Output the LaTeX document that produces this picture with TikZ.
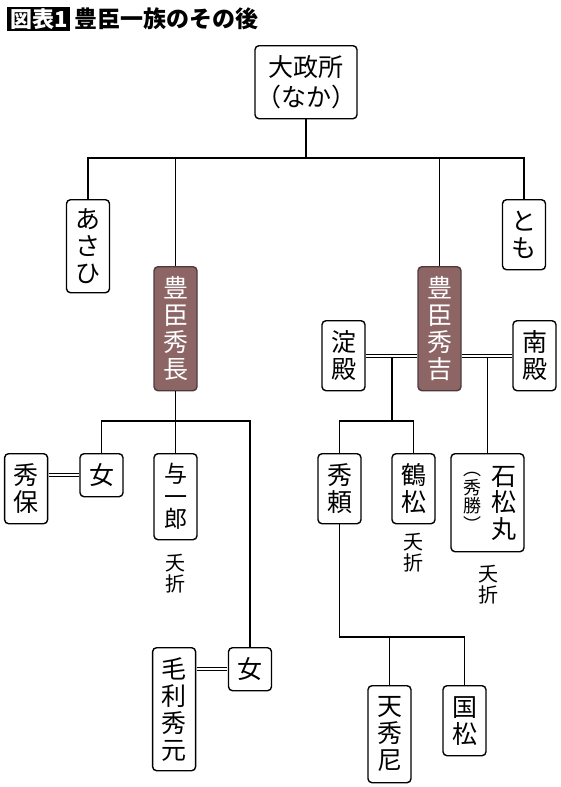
\documentclass[tikz,border=0pt]{standalone}
\usepackage{fontspec}
\setmainfont{Noto Sans CJK JP}
\usetikzlibrary{positioning}
\definecolor{lordfill}{HTML}{8D6565}
\definecolor{lordline}{HTML}{4E3A3A}

\begin{document}
\begin{tikzpicture}[
    x=1pt, y=-1pt,
    person/.style={rectangle, draw, fill=white, rounded corners=4pt, line width=1.4pt, minimum width=43pt, inner sep=0pt, align=center, anchor=north, font=\fontsize{25}{27}\selectfont},
    lord/.style={person, fill=lordfill, draw=lordline, text=white},
    link/.style={line width=1.5pt},
    marriage/.style={double, double distance=2pt, line width=1.1pt, shorten <=0.7pt, shorten >=0.7pt},
    note/.style={align=center, inner sep=0pt, font=\fontsize{20}{21}\selectfont}
]
\useasboundingbox (0,0) rectangle (560,787);

% Title
\node[fill=black, text=white, inner sep=0pt, minimum width=63pt, minimum height=24pt, anchor=north west, font=\fontsize{22}{22}\selectfont\bfseries] (tag) at (7,7) {図表1};
\node[right=4pt of tag, inner sep=0pt, font=\fontsize{23}{23}\selectfont\bfseries] (title) {豊臣一族のその後};

% First generation
\node[person, minimum width=102pt, minimum height=73pt, font=\fontsize{25}{30}\selectfont] (naka) at (306,45) {大政所\\（なか）};

% Children
\node[person, minimum height=93pt] (asahi) at (88,199) {あ\\さ\\ひ};
\node[lord, minimum height=124pt] (hidenaga) at (175.5,266) {豊\\臣\\秀\\長};
\node[lord, minimum height=124pt] (hideyoshi) at (439.5,266) {豊\\臣\\秀\\吉};
\node[person, minimum height=70pt] (tomo) at (524,199) {と\\も};

% Wives of Hideyoshi
\node[person, minimum height=70pt] (yodo) at (343.5,320) {淀\\殿};
\node[person, minimum height=70pt] (minami) at (534.5,320) {南\\殿};

% Hidenaga's line
\node[person, minimum height=43pt] (onna1) at (101.5,453) {女};
\node[person, minimum height=70pt, left=31pt of onna1.north west, anchor=north east] (hideyasu) {秀\\保};
\node[person, minimum height=86pt, font=\fontsize{23}{22.5}\selectfont] (yoichiro) at (175.5,453) {与\\一\\郎};
\node[person, minimum height=43pt] (onna2) at (250,647) {女};
\node[person, minimum height=123pt, left=31.5pt of onna2.north west, anchor=north east] (mouri) {毛\\利\\秀\\元};

% Hideyoshi's line
\node[person, minimum height=70pt] (hideyori) at (339.5,453) {秀\\頼};
\node[person, minimum height=70pt] (tsurumatsu) at (413.5,453) {鶴\\松};
\node[person, minimum width=73pt, minimum height=98pt] (ishimatsu) at (487.5,453) {};
\node[align=center, inner sep=0pt, font=\fontsize{25}{26.5}\selectfont] (ishiname) at (503.5,503) {石\\松\\丸};
\node[align=center, inner sep=0pt, font=\fontsize{18}{18.5}\selectfont] (katsu) at (472,502) {︵\\秀\\勝\\︶};
\node[person, minimum height=97pt] (tenshu) at (389.5,685) {天\\秀\\尼};
\node[person, minimum height=70pt] (kunimatsu) at (464.5,685) {国\\松};

% Notes
\node[note] (note1) at (175,574) {夭\\折};
\node[note] (note2) at (413.5,553) {夭\\折};
\node[note] (note3) at (488,585) {夭\\折};

% Connectors
\coordinate (bar1) at (306,158);
\draw[link] (naka.south) -- (bar1);
\draw[link] (asahi.north) |- (bar1) -| (tomo.north);
\draw[link] (hidenaga.north) -- (hidenaga.north |- bar1);
\draw[link] (hideyoshi.north) -- (hideyoshi.north |- bar1);

\coordinate (bar2) at (175.5,421);
\draw[link] (hidenaga.south) -- (yoichiro.north);
\draw[link] (onna1.north) |- (bar2) -| (onna2.north);
\draw[marriage] (hideyasu.east |- onna1.west) -- (onna1.west);
\draw[marriage] (mouri.east |- onna2.west) -- (onna2.west);

\draw[marriage] (yodo.east) -- (yodo.east -| hideyoshi.west);
\draw[marriage] (hideyoshi.east |- minami.west) -- (minami.west);
\coordinate (yodoc) at (392,357);
\coordinate (bar3) at (392,421);
\draw[link] (yodoc) -- (bar3);
\draw[link] (hideyori.north) |- (bar3) -| (tsurumatsu.north);
\draw[link] (ishimatsu.north) -- (ishimatsu.north |- yodoc);

\coordinate (bar4) at (389.5,637);
\draw[link] (hideyori.south) |- (bar4) -| (kunimatsu.north);
\draw[link] (tenshu.north) -- (bar4);

\end{tikzpicture}
\end{document}
